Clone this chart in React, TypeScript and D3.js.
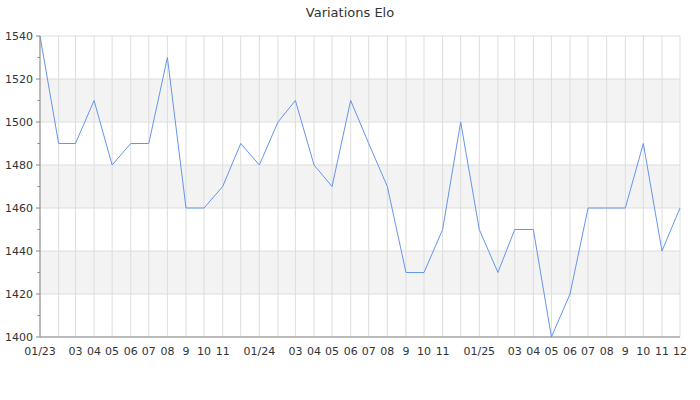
import React from "react";
import * as d3 from "d3";

const months: string[] = [
  "2023-01","2023-02","2023-03","2023-04","2023-05","2023-06","2023-07","2023-08","2023-09","2023-10","2023-11","2023-12",
  "2024-01","2024-02","2024-03","2024-04","2024-05","2024-06","2024-07","2024-08","2024-09","2024-10","2024-11","2024-12",
  "2025-01","2025-02","2025-03","2025-04","2025-05","2025-06","2025-07","2025-08","2025-09","2025-10","2025-11","2025-12",
];
const elo: number[] = [
  1540,1490,1490,1510,1480,1490,1490,1530,1460,1460,1470,1490,
  1480,1500,1510,1480,1470,1510,1490,1470,1430,1430,1450,1500,
  1450,1430,1450,1450,1400,1420,1460,1460,1460,1490,1440,1460,
];
const xTickLabels: string[] = [
  "01/23","","03","04","05","06","07","08","9","10","11","",
  "01/24","","03","04","05","06","07","08","9","10","11","",
  "01/25","","03","04","05","06","07","08","9","10","11","12",
];
const yTicks: number[] = [1400,1420,1440,1460,1480,1500,1520,1540];
const yMinorTicks: number[] = [1410,1430,1450,1470,1490,1510,1530];
const bands: [number, number][] = [[1420,1440],[1460,1480],[1500,1520]];
const title = "Variations Elo";

const W = 700, H = 400;
const M = { left: 40, right: 20, top: 36, bottom: 63 };

export default function App() {
  const parse = d3.timeParse("%Y-%m");
  const dates = months.map((m) => parse(m) as Date);
  const x = d3.scaleTime().domain([dates[0], dates[dates.length - 1]]).range([M.left, W - M.right]);
  const y = d3.scaleLinear().domain([1400, 1540]).range([H - M.bottom, M.top]);
  const line = d3.line<number>().x((_, i) => x(dates[i])).y((d) => y(d));
  const font = "DejaVu Sans, sans-serif";
  return (
    <svg width={W} height={H} style={{ position: "absolute", left: 0, top: 0 }} fontFamily={font}>
      <text x={W / 2} y={17} textAnchor="middle" fontSize={13} fill="#333">{title}</text>
      {bands.map(([a, b], i) => (
        <rect key={i} x={M.left} y={y(b)} width={W - M.right - M.left} height={y(a) - y(b)} fill="#f3f3f3" />
      ))}
      {yTicks.map((t) => (
        <line key={t} x1={M.left} x2={W - M.right} y1={y(t)} y2={y(t)} stroke="#ddd" strokeWidth={1} />
      ))}
      {dates.map((d, i) => (
        <line key={i} x1={x(d)} x2={x(d)} y1={M.top} y2={H - M.bottom} stroke="#ddd" strokeWidth={1} />
      ))}
      <path d={line(elo) || ""} fill="none" stroke="#6495ed" strokeWidth={1} />
      <line x1={M.left} x2={M.left} y1={M.top} y2={H - M.bottom} stroke="#888" />
      <line x1={M.left} x2={W - M.right} y1={H - M.bottom} y2={H - M.bottom} stroke="#888" />
      {yTicks.map((t) => (
        <g key={t}>
          <line x1={M.left - 4} x2={M.left} y1={y(t)} y2={y(t)} stroke="#888" />
          <text x={M.left - 7} y={y(t)} dy="0.35em" textAnchor="end" fontSize={11} fill="#333">{t}</text>
        </g>
      ))}
      {yMinorTicks.map((t) => (
        <line key={t} x1={M.left - 2.5} x2={M.left} y1={y(t)} y2={y(t)} stroke="#888" />
      ))}
      {dates.map((d, i) =>
        xTickLabels[i] ? (
          <text key={i} x={x(d)} y={355} textAnchor="middle" fontSize={11} fill="#333">{xTickLabels[i]}</text>
        ) : null
      )}
    </svg>
  );
}
